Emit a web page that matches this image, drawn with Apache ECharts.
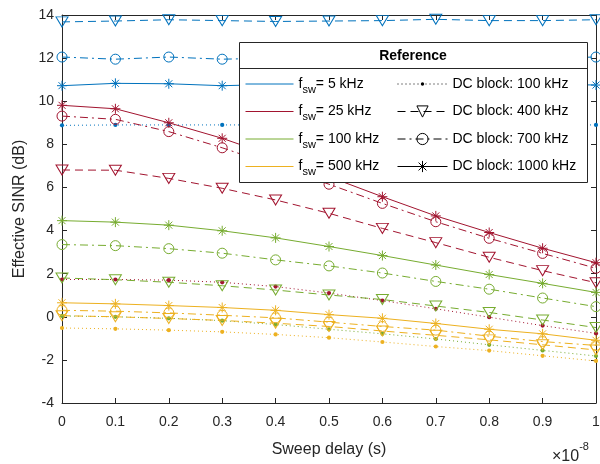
<!DOCTYPE html>
<html>
<head>
<meta charset="utf-8">
<script src="https://cdn.jsdelivr.net/npm/echarts@6/dist/echarts.min.js"></script>
<style>
  html, body { margin: 0; padding: 0; background: #fff; }
  #chart { width: 600px; height: 464px; }
</style>
</head>
<body>
<div id="chart"></div>
<script>
// sweep delay, in units of 1e-8 s
const sweepDelay = [0, 0.1, 0.2, 0.3, 0.4, 0.5, 0.6, 0.7, 0.8, 0.9, 1]
const fswLabels = ['5 kHz', '25 kHz', '100 kHz', '500 kHz']
const dcLabels = ['100 kHz', '400 kHz', '700 kHz', '1000 kHz']

// effective SINR (dB), one array per f_sw / DC block pair
const sinr5_dc100 = [8.88, 8.9, 8.9, 8.9, 8.9, 8.9, 8.9, 8.9, 8.9, 8.9, 8.9]
const sinr5_dc400 = [13.68, 13.72, 13.78, 13.74, 13.7, 13.72, 13.74, 13.8, 13.74, 13.74, 13.78]
const sinr5_dc700 = [12.05, 11.95, 12.05, 11.95, 12.0, 12.0, 12.0, 12.0, 12.0, 12.0, 12.05]
const sinr5_dc1000 = [10.72, 10.83, 10.81, 10.72, 10.78, 10.8, 10.8, 10.8, 10.78, 10.8, 10.75]

const sinr25_dc100 = [1.73, 1.73, 1.7, 1.6, 1.4, 1.1, 0.75, 0.37, -0.02, -0.41, -0.77]
const sinr25_dc400 = [6.81, 6.8, 6.42, 5.96, 5.42, 4.8, 4.1, 3.44, 2.76, 2.14, 1.58]
const sinr25_dc700 = [9.31, 9.16, 8.59, 7.84, 7.0, 6.15, 5.26, 4.41, 3.64, 2.94, 2.25]
const sinr25_dc1000 = [9.81, 9.65, 9.0, 8.28, 7.42, 6.5, 5.57, 4.68, 3.91, 3.18, 2.51]

const sinr100_dc100 = [0.04, 0.0, -0.07, -0.18, -0.36, -0.58, -0.79, -1.03, -1.3, -1.56, -1.82]
const sinr100_dc400 = [1.8, 1.72, 1.6, 1.44, 1.24, 1.01, 0.8, 0.5, 0.2, -0.15, -0.5]
const sinr100_dc700 = [3.35, 3.3, 3.16, 2.95, 2.64, 2.36, 2.03, 1.64, 1.28, 0.87, 0.47]
const sinr100_dc1000 = [4.46, 4.39, 4.25, 3.99, 3.66, 3.26, 2.84, 2.4, 1.96, 1.55, 1.13]

const sinr500_dc100 = [-0.52, -0.56, -0.62, -0.7, -0.82, -0.97, -1.17, -1.38, -1.57, -1.81, -2.05]
const sinr500_dc400 = [0.05, 0.0, -0.08, -0.17, -0.3, -0.45, -0.66, -0.86, -1.07, -1.3, -1.54]
const sinr500_dc700 = [0.3, 0.26, 0.18, 0.07, -0.05, -0.25, -0.45, -0.62, -0.9, -1.15, -1.33]
const sinr500_dc1000 = [0.65, 0.6, 0.52, 0.43, 0.3, 0.1, -0.07, -0.31, -0.58, -0.79, -1.09]

const sinrTable = [
  [sinr5_dc100, sinr5_dc400, sinr5_dc700, sinr5_dc1000],
  [sinr25_dc100, sinr25_dc400, sinr25_dc700, sinr25_dc1000],
  [sinr100_dc100, sinr100_dc400, sinr100_dc700, sinr100_dc1000],
  [sinr500_dc100, sinr500_dc400, sinr500_dc700, sinr500_dc1000]
]

const FONT = '"Liberation Sans", Arial, Helvetica, sans-serif'
const INK = '#262626'
const CLEAR = 'rgba(0,0,0,0)'
const fswColors = ['#0072BD', '#A2142F', '#77AC30', '#EDB120']

// marker shapes (matlab '.', 'v', 'o', '*')
const dotPath = 'path://M0,0M10,10M3.5,5a1.5,1.5 0 1,0 3,0a1.5,1.5 0 1,0 -3,0Z'
const triPath = 'path://M0,0L12,0L6,10Z'
const starPath = 'path://M5,0L5,10M0,5L10,5M1.5,1.5L8.5,8.5M1.5,8.5L8.5,1.5'

const dcStyles = [
  { type: [1, 3], symbol: dotPath, size: 14, filled: true },
  { type: [8, 5], symbol: triPath, size: [12, 10] },
  { type: [8, 4, 2, 4], symbol: 'circle', size: 10 },
  { type: 'solid', symbol: starPath, size: 10 }
]

const markerStyle = (color, filled) => filled
  ? { color: color, borderWidth: 0 }
  : { color: CLEAR, borderColor: color, borderWidth: 1 }

const series = []
sinrTable.forEach((row, i) => {
  row.forEach((vals, j) => {
    const st = dcStyles[j]
    series.push({
      type: 'line',
      name: 'curve ' + i + '-' + j,
      data: sweepDelay.map((x, k) => [x, vals[k]]),
      symbol: st.symbol,
      symbolSize: st.size,
      showSymbol: true,
      lineStyle: { color: fswColors[i], width: 1, type: st.type },
      itemStyle: markerStyle(fswColors[i], st.filled),
      emphasis: { disabled: true },
      z: 2
    })
  })
})

// legend-only entries
const fswNames = fswLabels.map(l => 'f_sw = ' + l)
const dcNames = dcLabels.map(l => 'DC block: ' + l)
fswNames.forEach((name, i) => {
  series.push({
    type: 'line', name: name, data: [], symbol: 'circle',
    lineStyle: { color: fswColors[i], width: 1, type: 'solid' },
    itemStyle: { color: fswColors[i] }
  })
})
dcNames.forEach((name, j) => {
  const st = dcStyles[j]
  series.push({
    type: 'line', name: name, data: [], symbol: st.symbol,
    lineStyle: { color: '#000', width: 1, type: st.type },
    itemStyle: markerStyle('#000', st.filled)
  })
})

const legendText = {
  fontSize: 14, color: '#000', fontFamily: FONT, lineHeight: 22,
  rich: {
    f: { fontSize: 14, color: '#000', fontFamily: FONT, lineHeight: 22 },
    s: { fontSize: 11, color: '#000', fontFamily: FONT, lineHeight: 12, verticalAlign: 'bottom' },
    t: { fontSize: 14, color: '#000', fontFamily: FONT, lineHeight: 22 }
  }
}

const axisCommon = {
  type: 'value',
  axisLine: { show: true, onZero: false, lineStyle: { color: INK, width: 1 } },
  axisTick: { show: true, inside: true, length: 5, lineStyle: { color: INK } },
  splitLine: { show: false },
  minorTick: { show: false }
}

const chart = echarts.init(document.getElementById('chart'), null, { renderer: 'canvas' })

chart.setOption({
  animation: false,
  backgroundColor: '#fff',
  textStyle: { fontFamily: FONT },
  grid: { left: 62, right: 4, top: 15, bottom: 61, containLabel: false, outerBoundsMode: 'none' },
  xAxis: [
    Object.assign({}, axisCommon, {
      position: 'bottom', min: 0, max: 1, interval: 0.1,
      axisLabel: {
        fontSize: 14, color: INK, fontFamily: FONT, margin: 12,
        showMinLabel: true, showMaxLabel: true,
        formatter: v => (v === 0 || v === 1) ? String(v) : v.toFixed(1)
      },
      name: 'Sweep delay (s)', nameLocation: 'middle', nameGap: 39,
      nameTextStyle: { fontSize: 16, color: INK, fontFamily: FONT }
    }),
    Object.assign({}, axisCommon, {
      position: 'top', min: 0, max: 1, interval: 0.1, axisLabel: { show: false }
    })
  ],
  yAxis: [
    Object.assign({}, axisCommon, {
      position: 'left', min: -4, max: 14, interval: 2,
      axisLabel: { fontSize: 14, color: INK, fontFamily: FONT, margin: 8, showMinLabel: true, showMaxLabel: true },
      name: 'Effective SINR (dB)', nameLocation: 'middle', nameGap: 34,
      nameTextStyle: { fontSize: 16, color: INK, fontFamily: FONT }
    }),
    Object.assign({}, axisCommon, {
      position: 'right', min: -4, max: 14, interval: 2, axisLabel: { show: false }
    })
  ],
  legend: [
    {
      data: fswNames, orient: 'vertical', left: 245, top: 73, padding: 0,
      itemWidth: 48, itemHeight: 14, itemGap: 5.5, selectedMode: false,
      itemStyle: { opacity: 0 },
      lineStyle: { width: 1 },
      textStyle: legendText,
      formatter: name => '{f|f}{s|sw}{t|= ' + name.replace('f_sw = ', '') + '}',
      z: 5
    },
    {
      data: dcNames, orient: 'vertical', left: 397, top: 73, padding: 0,
      itemWidth: 50, itemHeight: 14, itemGap: 5.5, selectedMode: false,
      itemStyle: { borderWidth: 1 },
      lineStyle: { width: 1 },
      textStyle: legendText,
      z: 5
    }
  ],
  graphic: [
    {
      type: 'rect', z: 3,
      shape: { x: 239.5, y: 42.5, width: 348, height: 140 },
      style: { fill: '#fff', stroke: INK, lineWidth: 1 }
    },
    {
      type: 'line', z: 3,
      shape: { x1: 239.5, y1: 68.5, x2: 587.5, y2: 68.5 },
      style: { stroke: INK, lineWidth: 1 }
    },
    {
      type: 'text', z: 3, x: 413, y: 56,
      style: {
        text: 'Reference', fill: '#000', fontSize: 14, fontWeight: 'bold',
        fontFamily: FONT, align: 'center', verticalAlign: 'middle'
      }
    },
    {
      type: 'text', z: 3, x: 552, y: 441,
      style: {
        text: '{a|×10}{b|-8}',
        rich: {
          a: { fontSize: 16, fill: INK, fontFamily: FONT, lineHeight: 24, verticalAlign: 'bottom' },
          b: { fontSize: 11, fill: INK, fontFamily: FONT, lineHeight: 14, verticalAlign: 'top' }
        }
      }
    }
  ],
  series: series
})
</script>
</body>
</html>
